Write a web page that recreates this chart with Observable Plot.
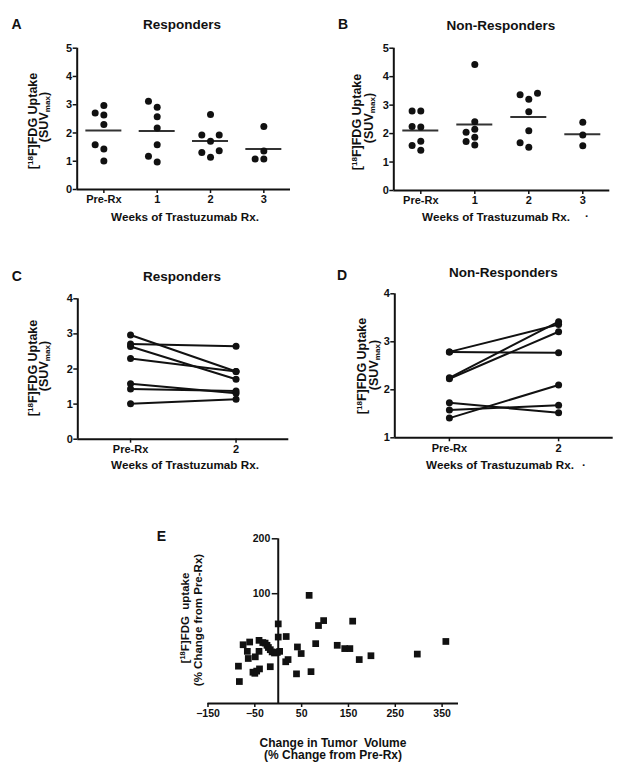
<!DOCTYPE html>
<html><head><meta charset="utf-8">
<script src="https://cdn.jsdelivr.net/npm/d3@7"></script>
<script src="https://cdn.jsdelivr.net/npm/@observablehq/plot@0.6"></script>
<style>
body{margin:0;background:#fff;}
#fig{position:relative;width:622px;height:770px;overflow:hidden;font-family:"Liberation Sans",Arial,sans-serif;font-weight:bold;color:#111;}
.t{position:absolute;white-space:nowrap;line-height:1;}
sup{font-size:65%;vertical-align:baseline;position:relative;top:-0.5em;}
sub{font-size:65%;vertical-align:baseline;position:relative;top:0.25em;}
</style></head><body><div id="fig"></div><script>
// ---------- data ----------
const weeks = ["Pre-Rx", "1", "2", "3"];
const pairWeeks = ["Pre-Rx", "2"];
// Responders (SUVmax); respPre[i] and respWk2[i] are the same tumour
const respPre = [2.97, 2.71, 2.64, 2.30, 1.58, 1.43, 1.01];
const respWk1 = [3.12, 2.91, 2.57, 2.18, 1.58, 1.18, 0.97];
const respWk2 = [1.93, 2.65, 1.71, 1.93, 1.31, 1.37, 1.14];
const respWk3 = [2.23, 1.36, 1.08, 1.08];
// Non-responders (SUVmax); nonPre[i] and nonWk2[i] are the same tumour
const nonPre = [2.79, 2.79, 2.25, 2.23, 1.73, 1.58, 1.41];
const nonWk1 = [4.43, 2.42, 2.15, 2.05, 1.87, 1.72, 1.60];
const nonWk2 = [3.36, 2.77, 3.42, 3.21, 1.52, 1.68, 2.10];
const nonWk3 = [2.40, 1.95, 1.57];
// Panel E: % change in tumour volume vs % change in FDG uptake
const volChange = [-85, -83, -75, -61, -66, -64, -54, -50, -46, -40, -49, -41, -41, -33, -28, -24, -21, -17, -13, -8, -2, -17,
  0, 0, 17, 3, 16, 21, 39, 41, 49, 70, 66, 80, 86, 97, 126, 142, 153, 159, 173, 198, 297, 358];
const fdgChange = [-32, -60, 7, 12, -5, -18, -43, -45, -41, -37, -15, -5, 15, 11, 10, 6, 2, -2, -6, -8, -7, -33,
  45, 21, 22, -5, -24, -20, -46, 3, -9, -42, 97, 9, 42, 51, 6, 0, 0, 50, -20, -13, -10, 13];
const eXTicks = [-150, -50, 50, 150, 250, 350];
const eYTicks = [100, 200];

// ---------- helpers ----------
const fig = document.getElementById("fig");
const FONT = '"Liberation Sans", Arial, sans-serif';
function addText(html, x, baseline, fs, anchor = "middle") {
  const d = document.createElement("div");
  d.className = "t";
  d.innerHTML = html;
  d.style.fontSize = fs + "px";
  d.style.top = (baseline - 0.847 * fs) + "px";
  d.style.left = x + "px";
  if (anchor === "middle") d.style.transform = "translateX(-50%)";
  else if (anchor === "end") d.style.transform = "translateX(-100%)";
  fig.appendChild(d);
}
function addRot(html, baselineX, cy, fs) {
  const d = document.createElement("div");
  d.className = "t";
  d.innerHTML = html;
  d.style.fontSize = fs + "px";
  d.style.left = (baselineX - 0.347 * fs) + "px";
  d.style.top = cy + "px";
  d.style.transform = "translate(-50%,-50%) rotate(-90deg)";
  fig.appendChild(d);
}
function place(svg, left, top) {
  svg.style.position = "absolute";
  svg.style.left = left + "px";
  svg.style.top = top + "px";
  fig.appendChild(svg);
}
function margins(box, frame) {
  return {
    width: box.w, height: box.h,
    marginLeft: frame.x0 - box.left, marginRight: box.left + box.w - frame.x1,
    marginTop: frame.y0 - box.top, marginBottom: box.top + box.h - frame.y1
  };
}
const style = (fs) => ({fontFamily: FONT, fontSize: fs + "px", fontWeight: "bold", color: "#111", background: "transparent", overflow: "visible"});
const intFmt = d3.format("d");

// simple column dodge: returns slot index (0, -1, +1, ...) per value
function dodgeSlots(values, pxPerValue, thr) {
  const order = d3.range(values.length).sort((a, b) => values[a] - values[b]);
  const slots = new Array(values.length);
  const placed = [];
  for (const i of order) {
    for (const k of [0, -1, 1, -2, 2, -3, 3]) {
      if (!placed.some(p => p.k === k && Math.abs(p.v - values[i]) * pxPerValue < thr)) {
        placed.push({k, v: values[i]}); slots[i] = k; break;
      }
    }
  }
  return slots;
}

function scatterPanel(groups, box, frame, yMax) {
  const pxX = (frame.x1 - frame.x0) / 4;
  const pxY = (frame.y1 - frame.y0) / yMax;
  const rows = [];
  groups.forEach((vals, gi) => {
    const slots = dodgeSlots(vals, pxY, 7.5);
    vals.forEach((v, j) => rows.push({g: gi, v, x: gi + slots[j] * 8.7 / pxX}));
  });
  const means = groups.map((vals, gi) => ({g: gi, m: d3.mean(vals)}));
  const hw = 18 / pxX;
  const svg = Plot.plot({
    ...margins(box, frame),
    style: style(11),
    x: {domain: [-0.5, 3.5]},
    y: {domain: [0, yMax]},
    marks: [
      Plot.axisY({ticks: d3.range(0, yMax + 1), tickFormat: intFmt, tickSize: 4, tickPadding: 1, strokeWidth: 1.5, label: null}),
      Plot.axisX({ticks: [0, 1, 2, 3], tickFormat: i => weeks[i], tickSize: 4, tickPadding: 2, strokeWidth: 1.5, label: null}),
      Plot.ruleY([0], {strokeWidth: 2}),
      Plot.ruleX([-0.5], {strokeWidth: 2}),
      Plot.ruleY(means, {y: "m", x1: d => d.g - hw, x2: d => d.g + hw, strokeWidth: 2, stroke: "#333"}),
      Plot.dot(rows, {x: "x", y: "v", r: 3.5, fill: "#111"})
    ]
  });
  place(svg, box.left, box.top);
}

function pairedPanel(pre, post, box, frame, yDomain, yTicks) {
  const rows = [];
  pre.forEach((v, i) => { rows.push({id: i, t: 0, v}); rows.push({id: i, t: 1, v: post[i]}); });
  const svg = Plot.plot({
    ...margins(box, frame),
    style: style(11),
    x: {domain: [-0.5, 1.5]},
    y: {domain: yDomain},
    marks: [
      Plot.axisY({ticks: yTicks, tickFormat: intFmt, tickSize: 4, tickPadding: 1, strokeWidth: 1.5, label: null}),
      Plot.axisX({ticks: [0, 1], tickFormat: i => pairWeeks[i], tickSize: 4, tickPadding: 2, strokeWidth: 1.5, label: null}),
      Plot.ruleY([yDomain[0]], {strokeWidth: 2}),
      Plot.ruleX([-0.5], {strokeWidth: 2}),
      Plot.line(rows, {x: "t", y: "v", z: "id", stroke: "#111", strokeWidth: 2}),
      Plot.dot(rows, {x: "t", y: "v", r: 3.5, fill: "#111"})
    ]
  });
  place(svg, box.left, box.top);
}

// ---------- panels ----------
scatterPanel([respPre, respWk1, respWk2, respWk3],
  {left: 0, top: 0, w: 311, h: 230}, {x0: 76.7, x1: 290, y0: 47.7, y1: 189}, 5);
scatterPanel([nonPre, nonWk1, nonWk2, nonWk3],
  {left: 311, top: 0, w: 311, h: 230}, {x0: 393.3, x1: 609.3, y0: 47.7, y1: 190}, 5);
pairedPanel(respPre, respWk2,
  {left: 0, top: 240, w: 311, h: 230}, {x0: 77.3, x1: 288.3, y0: 298.3, y1: 438.7}, [0, 4], [0, 1, 2, 3, 4]);
pairedPanel(nonPre, nonWk2,
  {left: 311, top: 240, w: 311, h: 230}, {x0: 394.3, x1: 612.7, y0: 293.3, y1: 437.3}, [1, 4], [1, 2, 3, 4]);

// Panel E
{
  const box = {left: 140, top: 500, w: 340, h: 250};
  const frame = {x0: 207.5, x1: 458, y0: 538.3, y1: 703};
  const eRows = volChange.map((x, i) => ({x, y: fdgChange[i]}));
  const svg = Plot.plot({
    ...margins(box, frame),
    style: style(10.5),
    x: {domain: [-150, 385]},
    y: {domain: [-100, 200], axis: null},
    marks: [
      Plot.axisX({ticks: eXTicks, tickSize: 4, tickPadding: 2, strokeWidth: 1.5, label: null}),
      Plot.ruleY([-100], {strokeWidth: 2}),
      Plot.ruleX([0], {strokeWidth: 2}),
      Plot.ruleY(eYTicks, {y: d => d, x1: 0, x2: 0, insetLeft: -6, strokeWidth: 1.5}),
      Plot.text(eYTicks, {x: 0, y: d => d, text: d => String(d), dx: -8, textAnchor: "end"}),
      Plot.dot(eRows, {x: "x", y: "y", symbol: "square", r: 3.8, fill: "#111"})
    ]
  });
  place(svg, box.left, box.top);
}

// ---------- texts ----------
const yl1 = "[<sup>18</sup>F]FDG Uptake";
const yl2 = "(SUV<sub>max</sub>)";
const xt = "Weeks of Trastuzumab Rx.";
const yfs = 12.5;
// A
addText("A", 11.5, 28.5, 14, "start");
addText("Responders", 182, 29.5, 13.5);
addRot(yl1, 37, 121, yfs);
addRot(yl2, 48.5, 117, yfs);
addText(xt, 185, 220.5, 11.7);
// B
addText("B", 338, 28.5, 14, "start");
addText("Non-Responders", 501, 30, 13.5);
addRot(yl1, 361.5, 122, yfs);
addRot(yl2, 373.5, 118, yfs);
addText(xt, 496, 221, 11.7);
addText("·", 587, 220, 11.7);
// C
addText("C", 11.7, 281, 14, "start");
addText("Responders", 182, 281, 13.5);
addRot(yl1, 37, 368, yfs);
addRot(yl2, 48.5, 366, yfs);
addText(xt, 185, 469, 11.7);
// D
addText("D", 337, 280, 14, "start");
addText("Non-Responders", 503.5, 277, 13.5);
addRot(yl1, 366, 366, yfs);
addRot(yl2, 378, 365, yfs);
addText(xt, 500, 469, 11.7);
addText("·", 584, 469, 11.7);
// E
addText("E", 156.7, 540.7, 14, "start");
addRot("[<sup>18</sup>F]FDG&nbsp; uptake", 190, 618, 11.5);
addRot("(% Change from Pre-Rx)", 203, 620, 11.5);
addText("Change in Tumor&nbsp; Volume", 333, 747, 12);
addText("(% Change from Pre-Rx)", 333, 759.5, 12);
</script></body></html>
